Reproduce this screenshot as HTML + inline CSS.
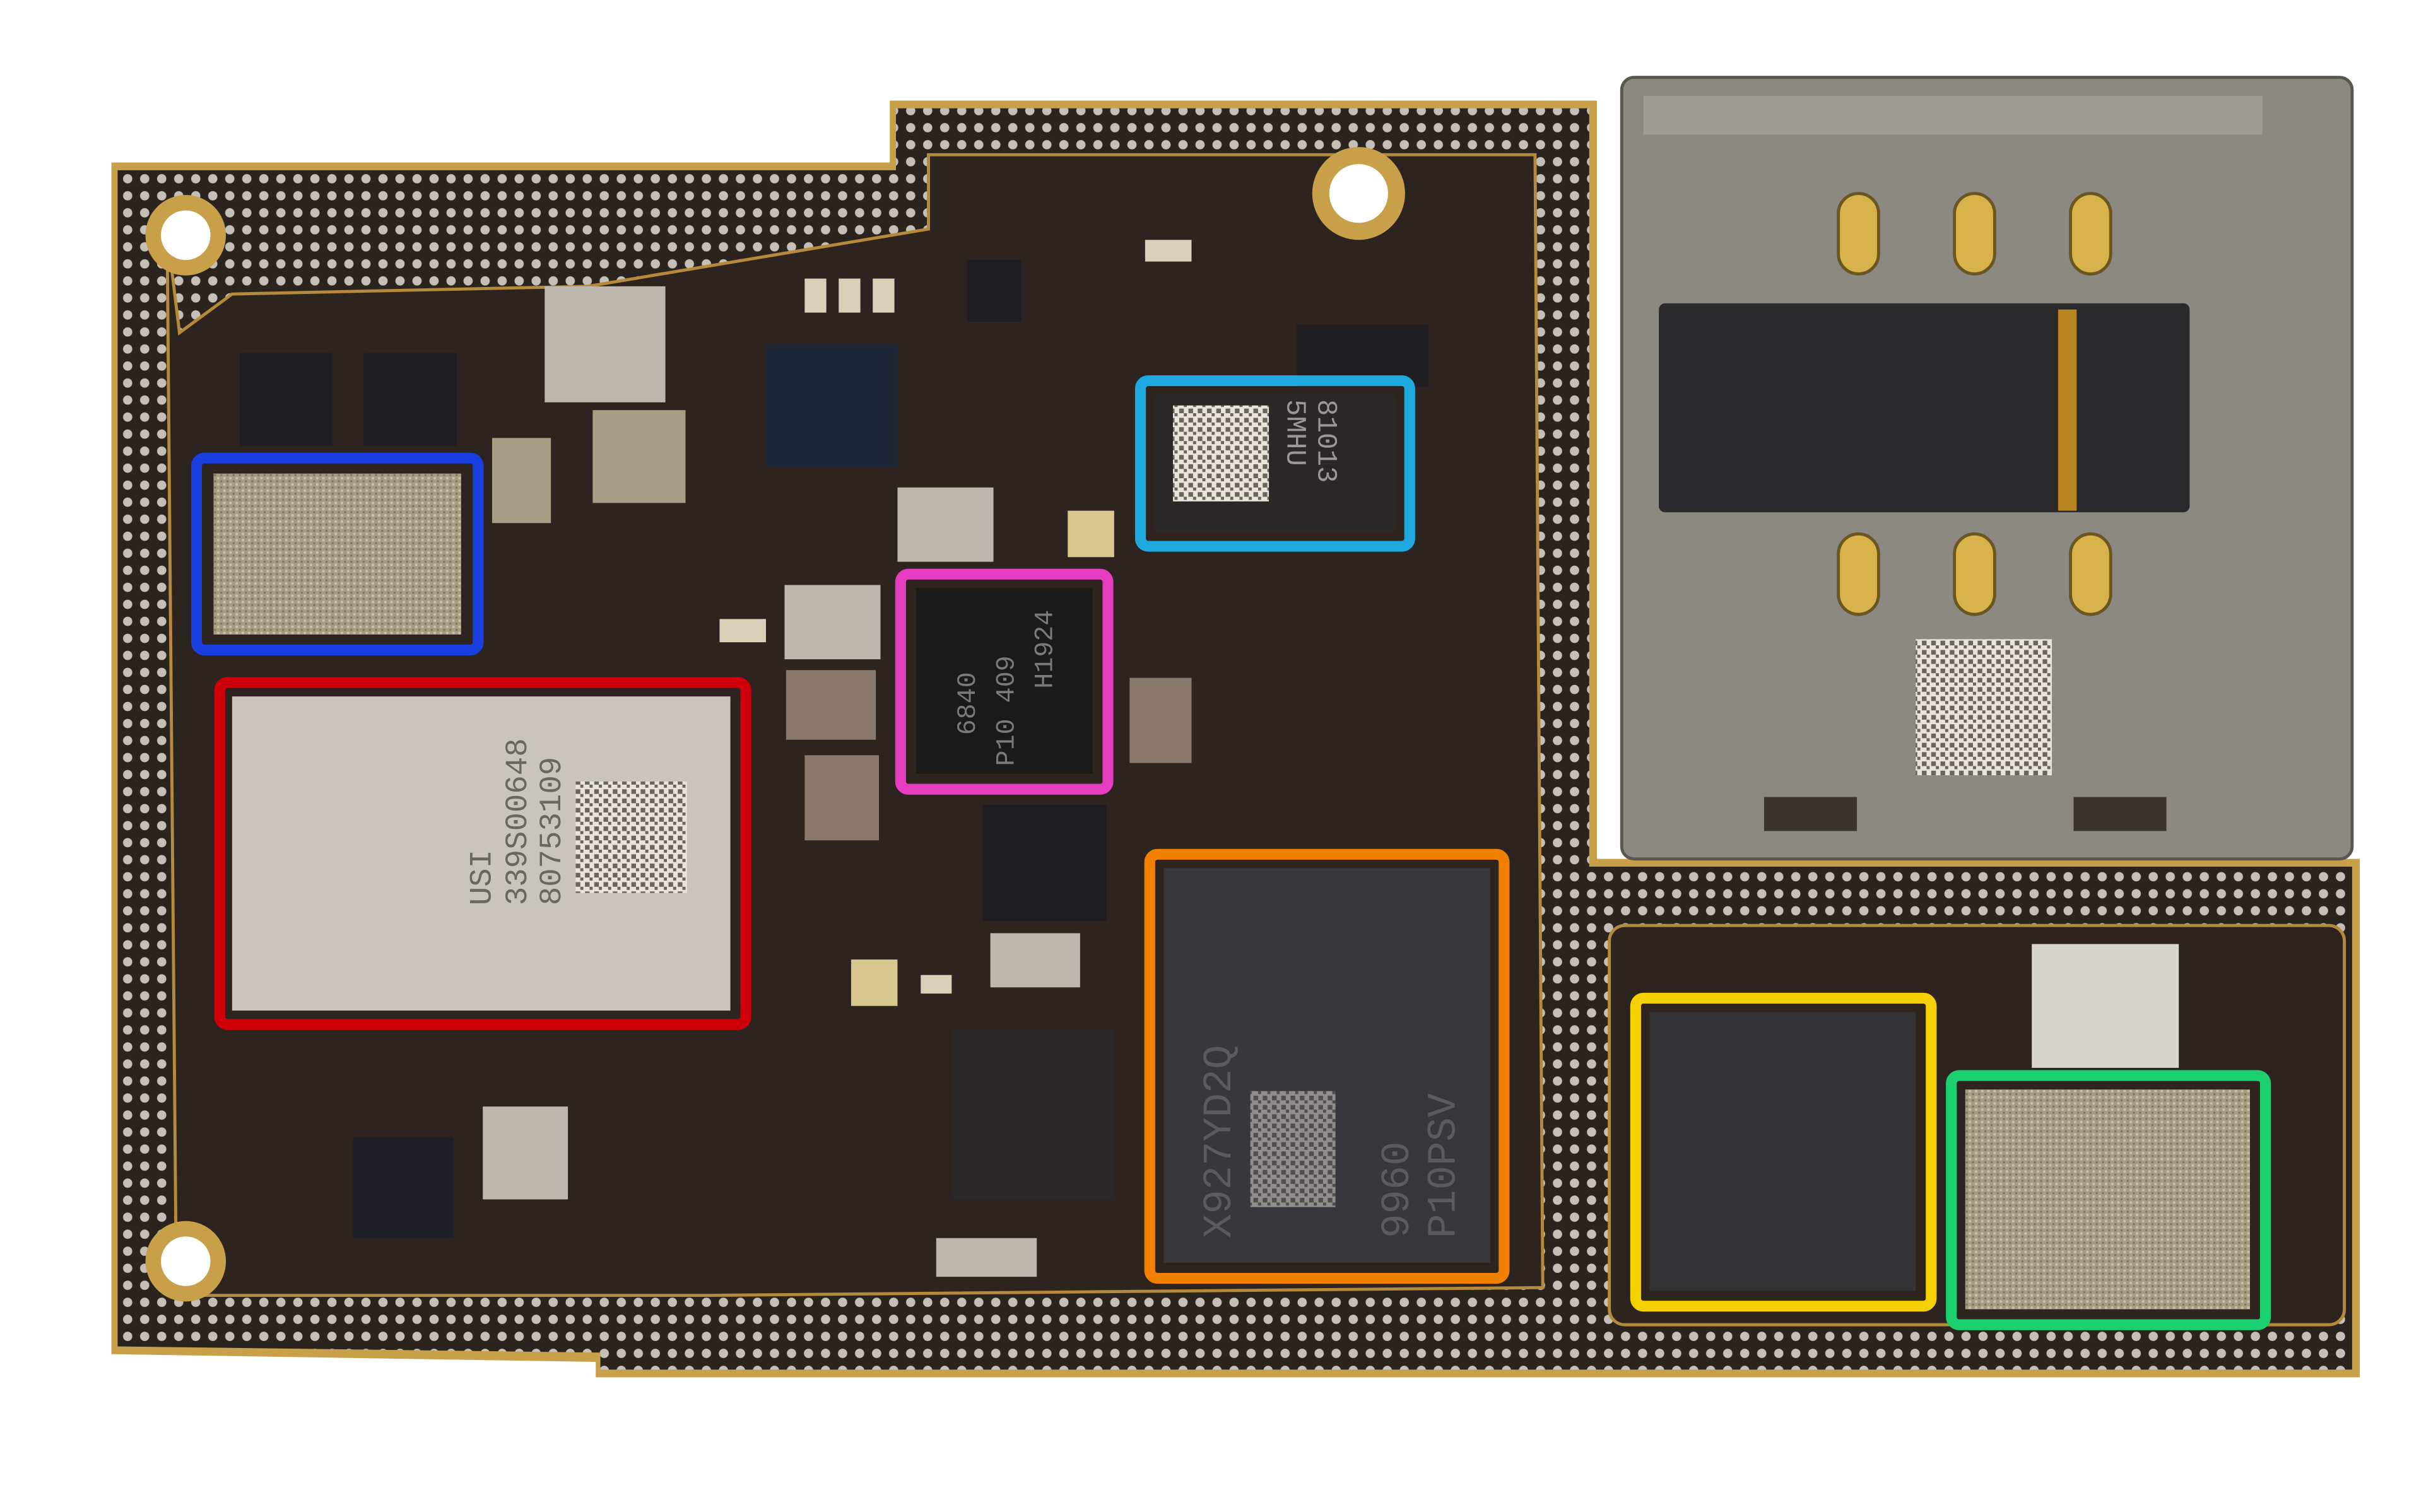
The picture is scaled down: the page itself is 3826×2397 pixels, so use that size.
<!DOCTYPE html>
<html><head><meta charset="utf-8">
<style>
html,body{margin:0;padding:0;background:#fff;}
svg{display:block;}
text{font-family:"Liberation Mono",monospace;}
</style></head>
<body>
<svg width="3826" height="2397" viewBox="0 0 1560 977" preserveAspectRatio="none" xmlns="http://www.w3.org/2000/svg">
<defs>
<pattern id="dots" width="11" height="11" patternUnits="userSpaceOnUse">
<rect width="11" height="11" fill="#2b241e"/>
<circle cx="5.5" cy="5.5" r="3" fill="#c4bfb7"/>
</pattern>
<pattern id="grain" width="4" height="4" patternUnits="userSpaceOnUse">
<rect width="4" height="4" fill="#a69c82"/>
<circle cx="1" cy="1" r="0.9" fill="#c9c0a6"/>
<circle cx="3" cy="3" r="0.7" fill="#7d7560"/>
</pattern>
<pattern id="qr" width="6" height="6" patternUnits="userSpaceOnUse">
<rect width="6" height="6" fill="#e8e4dc"/>
<rect width="3" height="3" fill="#6a655e"/>
<rect x="3" y="3" width="2" height="2" fill="#6a655e"/>
</pattern>
</defs>
<rect width="1560" height="977" fill="#fff"/>
<path d="M72,105 L575,105 L575,65 L1032,65 L1032,555 L1525,555 L1525,890 L385,890 L385,880 L72,875 Z" fill="#c9a04a"/>
<path d="M76,110 L579,110 L579,70 L1027,70 L1027,560 L1520,560 L1520,885 L388,885 L388,874 L76,870 Z" fill="url(#dots)"/>
<path d="M108,150 L116,215 L150,190 L380,185 L600,148 L600,100 L992,100 L997,832 L460,837 L114,837 Z" fill="#2d2420" stroke="#b58a3a" stroke-width="2"/>
<rect x="1040" y="598" width="475" height="258" rx="10" fill="#2d2420" stroke="#b58a3a" stroke-width="2"/>
<circle cx="120" cy="152" r="26" fill="#c9a04a"/><circle cx="120" cy="152" r="16" fill="#fff"/>
<circle cx="120" cy="815" r="26" fill="#c9a04a"/><circle cx="120" cy="815" r="16" fill="#fff"/>
<circle cx="878" cy="125" r="30" fill="#c9a04a"/><circle cx="878" cy="125" r="19" fill="#fff"/>
<rect x="1048" y="50" width="472" height="505" rx="8" fill="#8c8882" stroke="#5a5650" stroke-width="2"/>
<rect x="1062" y="62" width="400" height="25" fill="#a09c96"/>
<rect x="1072" y="196" width="343" height="135" rx="4" fill="#2a2a2c"/>
<rect x="1330" y="200" width="12" height="130" fill="#b8861e"/>
<g fill="#d8b24a" stroke="#6a5620" stroke-width="2">
<rect x="1188" y="125" width="26" height="52" rx="13"/><rect x="1263" y="125" width="26" height="52" rx="13"/><rect x="1338" y="125" width="26" height="52" rx="13"/>
<rect x="1188" y="345" width="26" height="52" rx="13"/><rect x="1263" y="345" width="26" height="52" rx="13"/><rect x="1338" y="345" width="26" height="52" rx="13"/>
</g>
<rect x="1238" y="413" width="88" height="88" fill="url(#qr)"/>
<rect x="1140" y="515" width="60" height="22" fill="#3a3330"/><rect x="1340" y="515" width="60" height="22" fill="#3a3330"/>
<g fill="#bdb7ad">
<rect x="352" y="185" width="78" height="75"/><rect x="383" y="265" width="60" height="60" fill="#a89e86"/>
<rect x="318" y="283" width="38" height="55" fill="#a89e86"/>
<rect x="580" y="315" width="62" height="48"/><rect x="507" y="378" width="62" height="48"/>
<rect x="508" y="433" width="58" height="45" fill="#8a7a6c"/><rect x="520" y="488" width="48" height="55" fill="#8a7a6c"/>
<rect x="730" y="438" width="40" height="55" fill="#8a7a6c"/><rect x="640" y="603" width="58" height="35"/>
<rect x="312" y="715" width="55" height="60"/><rect x="1313" y="610" width="95" height="80" fill="#d8d4ce"/>
<rect x="605" y="800" width="65" height="25"/>
</g>
<rect x="155" y="228" width="60" height="60" fill="#1e1e22"/><rect x="235" y="228" width="60" height="60" fill="#1e1e22"/>
<rect x="495" y="222" width="85" height="80" fill="#1e2535"/>
<rect x="625" y="168" width="35" height="40" fill="#1e1e22"/>
<rect x="838" y="210" width="85" height="40" fill="#1e1e22"/>
<rect x="635" y="520" width="80" height="75" fill="#1e1e22"/>
<rect x="615" y="665" width="105" height="110" fill="#2a2826"/>
<rect x="228" y="735" width="65" height="65" fill="#1e2028"/>
<g fill="#d8d0b8">
<rect x="520" y="180" width="14" height="22"/><rect x="542" y="180" width="14" height="22"/><rect x="564" y="180" width="14" height="22"/>
<rect x="740" y="155" width="30" height="14"/><rect x="465" y="400" width="30" height="15"/><rect x="595" y="630" width="20" height="12"/>
<rect x="690" y="330" width="30" height="30" fill="#d8c890"/><rect x="550" y="620" width="30" height="30" fill="#d8c890"/>
</g>
<rect x="138" y="306" width="160" height="104" fill="url(#grain)"/>
<rect x="150" y="450" width="322" height="203" fill="#c9c5be"/>
<rect x="372" y="505" width="72" height="72" fill="url(#qr)"/>
<text transform="translate(317,585) rotate(-90)" font-size="20" fill="#6a6660">USI</text>
<text transform="translate(340,585) rotate(-90)" font-size="20" fill="#6a6660">339S00648</text>
<text transform="translate(362,585) rotate(-90)" font-size="20" fill="#6a6660">80753109</text>
<rect x="592" y="380" width="114" height="120" fill="#1a1a1a"/>
<text transform="translate(630,475) rotate(-90)" font-size="17" fill="#7a7a78">6840</text>
<text transform="translate(655,495) rotate(-90)" font-size="17" fill="#7a7a78">P10 409</text>
<text transform="translate(680,445) rotate(-90)" font-size="17" fill="#7a7a78">H1924</text>
<rect x="746" y="255" width="156" height="89" fill="#2a2826"/>
<rect x="758" y="262" width="62" height="62" fill="url(#qr)"/>
<text transform="translate(852,258) rotate(90)" font-size="18" fill="#9a9894">81013</text>
<text transform="translate(832,258) rotate(90)" font-size="18" fill="#9a9894">5MHU</text>
<rect x="752" y="561" width="211" height="255" fill="#38383c"/>
<rect x="808" y="705" width="55" height="75" fill="url(#qr)" opacity="0.5"/>
<text transform="translate(795,800) rotate(-90)" font-size="26" fill="#5a5a60">X927YD2Q</text>
<text transform="translate(910,800) rotate(-90)" font-size="26" fill="#5a5a60">9960</text>
<text transform="translate(940,800) rotate(-90)" font-size="26" fill="#5a5a60">P10PSV</text>
<rect x="1066" y="654" width="172" height="180" fill="#333335"/>
<rect x="1270" y="704" width="184" height="142" fill="url(#grain)"/>
<g fill="none" stroke-width="7">
<rect x="127" y="296" width="182" height="124" rx="5" stroke="#1a3fe0"/>
<rect x="142" y="441" width="340" height="221" rx="5" stroke="#d0000a"/>
<rect x="582" y="371" width="134" height="139" rx="5" stroke="#e63cbf"/>
<rect x="737" y="246" width="174" height="107" rx="5" stroke="#1da8e0"/>
<rect x="743" y="552" width="229" height="274" rx="5" stroke="#f08000"/>
<rect x="1057" y="645" width="191" height="199" rx="5" stroke="#f5d000"/>
<rect x="1261" y="695" width="203" height="161" rx="5" stroke="#1ad070"/>
</g>
</svg>
</body></html>
